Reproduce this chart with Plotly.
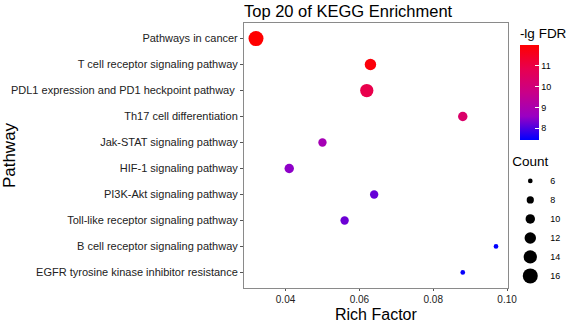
import numpy as np
import plotly.graph_objects as go

pathways = [
    "Pathways in cancer",
    "T cell receptor signaling pathway",
    "PDL1 expression and PD1 heckpoint pathway\u00a0",
    "Th17 cell differentiation",
    "Jak-STAT signaling pathway",
    "HIF-1 signaling pathway",
    "PI3K-Akt signaling pathway",
    "Toll-like receptor signaling pathway",
    "B cell receptor signaling pathway",
    "EGFR tyrosine kinase inhibitor resistance",
]
rich_factor = [0.032, 0.063, 0.062, 0.088, 0.050, 0.041, 0.064, 0.056, 0.097, 0.088]
neg_lg_fdr = [12.0, 11.85, 10.9, 10.35, 8.85, 8.5, 8.2, 8.25, 7.45, 7.5]
count = [16, 12, 14, 10, 9, 10, 9, 9, 6, 6]
count_breaks = [6, 8, 10, 12, 14, 16]
fdr_ticks = [8, 9, 10, 11]

FONT = "Arial, Liberation Sans, sans-serif"

# size scale (area-like, sqrt mapping as ggplot scale_size)
cmin_c, cmax_c = 5.5, 16
dmin, dmax = 4.0, 15.0


def diam(c):
    c = np.asarray(c, dtype=float)
    t = (np.sqrt(c) - np.sqrt(cmin_c)) / (np.sqrt(cmax_c) - np.sqrt(cmin_c))
    return dmin + (dmax - dmin) * t


# Lab-like blue->red gradient approximated with stops
colorscale = [
    [0.0, "rgb(0,0,255)"],
    [0.25, "rgb(154,0,195)"],
    [0.5, "rgb(201,0,136)"],
    [0.75, "rgb(232,0,79)"],
    [1.0, "rgb(255,0,0)"],
]

xmin, xmax = min(rich_factor), max(rich_factor)
pad = (xmax - xmin) * 0.05

fig = go.Figure()
fig.add_trace(go.Scatter(
    x=rich_factor, y=pathways, mode="markers", showlegend=False,
    marker=dict(
        size=diam(count), color=neg_lg_fdr, colorscale=colorscale,
        cmin=min(neg_lg_fdr), cmax=max(neg_lg_fdr), opacity=1,
        line=dict(width=0),
        colorbar=dict(
            title=dict(text="-lg FDR", side="top", font=dict(size=13.5, family=FONT, color="#000")),
            x=1.045, xanchor="left", xref="paper",
            y=(288.5 - 140) / 265.5, yanchor="bottom", yref="paper",
            len=115, lenmode="pixels", thickness=19, thicknessmode="pixels",
            outlinewidth=0, tickvals=fdr_ticks, ticks="inside", ticklen=4,
            tickcolor="white", tickfont=dict(size=9, family=FONT, color="#000"),
            xpad=0, ypad=0,
        ),
    ),
))

for c in count_breaks:
    fig.add_trace(go.Scatter(
        x=[None], y=[None], mode="markers", name=str(c), showlegend=True,
        marker=dict(size=float(diam(c)), color="black"),
    ))

fig.update_layout(
    width=567, height=322,
    margin=dict(l=244, r=59, t=23, b=34, autoexpand=False),
    paper_bgcolor="white", plot_bgcolor="white",
    font=dict(family=FONT, color="#000"),
    title=dict(text="Top 20 of KEGG Enrichment", x=0, xref="paper", xanchor="left",
               y=1 - 11 / 322, yref="container", yanchor="middle",
               font=dict(size=16.5, family=FONT, color="#000")),
    legend=dict(title=dict(text="Count", font=dict(size=13.5, family=FONT)),
                x=1.02 - 3 / 264, xanchor="left", y=0.525, yanchor="top",
                itemsizing="trace", font=dict(size=9, family=FONT),
                bgcolor="rgba(0,0,0,0)", tracegroupgap=0),
    xaxis=dict(range=[xmin - pad, xmax + pad], tickvals=[0.04, 0.06, 0.08, 0.10],
               ticktext=["0.04", "0.06", "0.08", "0.10"], automargin=False,
               showgrid=False, zeroline=False, showline=True, mirror=True,
               linecolor="#8a8a8a", linewidth=1, ticks="outside", ticklen=2,
               tickcolor="#555", tickfont=dict(size=10, color="#222")),
    yaxis=dict(categoryorder="array", categoryarray=pathways,
               range=[len(pathways) - 0.4, -0.6], automargin=False,
               showgrid=False, zeroline=False, showline=True, mirror=True,
               linecolor="#8a8a8a", linewidth=1, ticks="outside", ticklen=3,
               tickcolor="#555", tickfont=dict(size=11, color="#222"),
               title=dict(text="Pathway", font=dict(size=17), standoff=0)),
    annotations=[dict(text="Rich Factor", x=0.5, xref="paper", xanchor="center",
                      y=-(325 - 288.5) / 265.5, yref="paper",
                      yanchor="bottom", showarrow=False, borderpad=0,
                      font=dict(size=16, family=FONT, color="#000"))],
)

fig.write_html("out.html")
